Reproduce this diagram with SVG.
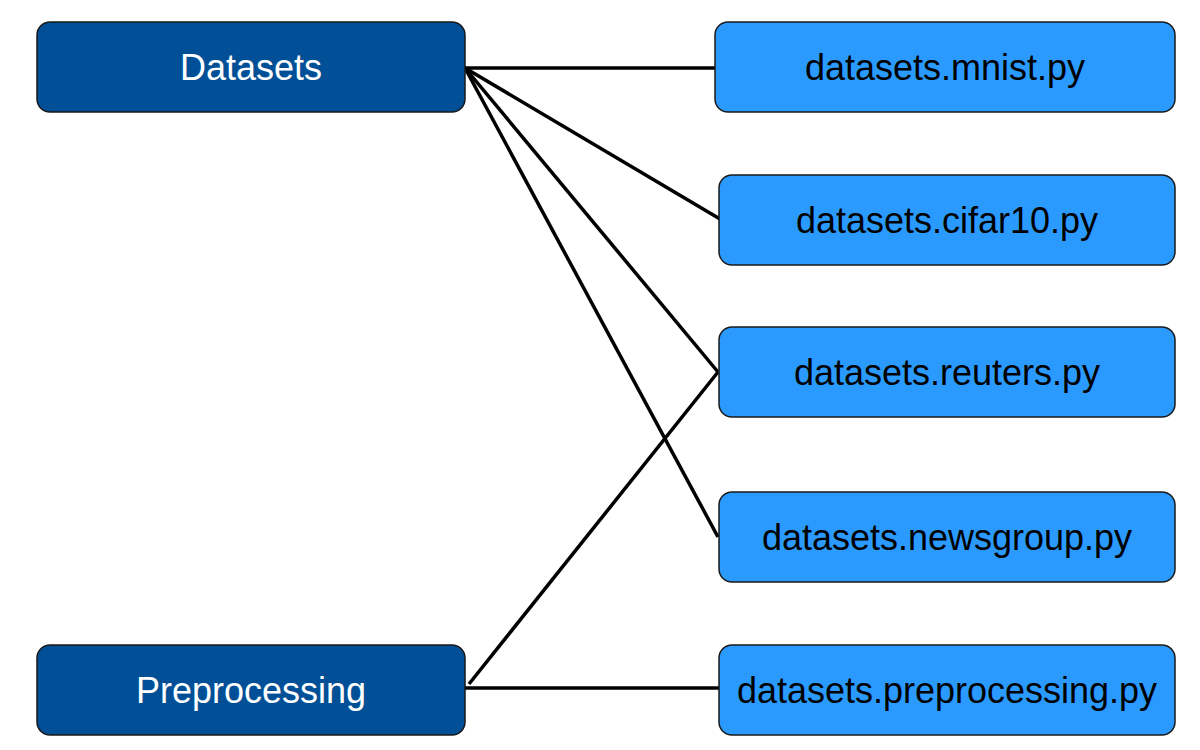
<svg xmlns="http://www.w3.org/2000/svg" width="1200" height="750" viewBox="0 0 1200 750">
<style>
.dark rect{fill:#004F97;stroke:#1a1a1a;stroke-width:1.5}
.light rect{fill:#2B9AFF;stroke:#1a1a1a;stroke-width:1.5}
text{font-family:"Liberation Sans",Arial,sans-serif;font-size:36px;text-anchor:middle;dominant-baseline:central}
.dark text{fill:#ffffff}
.light text{fill:#000000}
.edges line{stroke:#000;stroke-width:3.5;stroke-linecap:butt}
</style>
<rect width="1200" height="750" fill="#ffffff"/>
<g class="edges" id="connectors">
<line x1="465" y1="68" x2="716" y2="68"/>
<line x1="465" y1="68" x2="720" y2="219"/>
<line x1="465" y1="68" x2="718" y2="372"/>
<line x1="465" y1="68" x2="718" y2="537"/>
<line x1="469" y1="684" x2="718" y2="372"/>
<line x1="465" y1="688" x2="720" y2="688"/>
</g>
<g id="datasets" class="dark"><rect x="37" y="22" width="428" height="90" rx="13"/><text x="251" y="67">Datasets</text></g>
<g id="preprocessing" class="dark"><rect x="37" y="645" width="428" height="90" rx="13"/><text x="251" y="690">Preprocessing</text></g>
<g id="mnist" class="light"><rect x="715" y="22" width="460" height="90" rx="13"/><text x="945" y="67">datasets.mnist.py</text></g>
<g id="cifar10" class="light"><rect x="719" y="175" width="456" height="90" rx="13"/><text x="947" y="220">datasets.cifar10.py</text></g>
<g id="reuters" class="light"><rect x="719" y="327" width="456" height="90" rx="13"/><text x="947" y="372">datasets.reuters.py</text></g>
<g id="newsgroup" class="light"><rect x="719" y="492" width="456" height="90" rx="13"/><text x="947" y="537">datasets.newsgroup.py</text></g>
<g id="preprocessing_py" class="light"><rect x="719" y="645" width="456" height="90" rx="13"/><text x="947" y="690">datasets.preprocessing.py</text></g>
</svg>
